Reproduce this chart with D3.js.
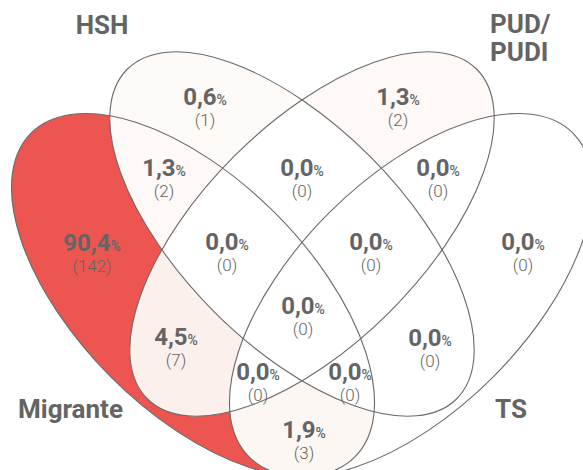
<!DOCTYPE html>
<html>
<head>
<meta charset="utf-8">
<title>Venn</title>
<script src="https://cdn.jsdelivr.net/npm/d3@7"></script>
<style>
  body { margin: 0; background: #fff; }
  text { font-family: Roboto, "DejaVu Sans", sans-serif; fill: #646464; }
</style>
</head>
<body>
<div id="chart"></div>
<script>
// data
var sets = ["Migrante", "HSH", "PUD/PUDI", "TS"];
// one digit per set, in the order of `sets` (1 = inside)
var regions  = ["1000", "0100", "0010", "0001", "1100", "0110", "0011", "1110", "0111", "1111", "1010", "0101", "1011", "1101", "1001"];
var percents = [90.4, 0.6, 1.3, 0.0, 1.3, 0.0, 0.0, 0.0, 0.0, 0.0, 4.5, 0.0, 0.0, 0.0, 1.9];
var counts   = [142, 1, 2, 0, 2, 0, 0, 0, 0, 0, 7, 0, 0, 0, 3];

function main() {
  var width = 583, height = 470;

  // layout of the four ellipses
  var shapes = [
    {cx: 193, cy: 295, rx: 229, ry: 116, rot: 45},
    {cx: 292, cy: 234, rx: 233, ry: 110, rot: 45},
    {cx: 312, cy: 234, rx: 233, ry: 110, rot: -45},
    {cx: 411, cy: 295, rx: 229, ry: 116, rot: -45}
  ];
  var labelAt = {
    "1000": [92, 251], "0100": [205, 105], "0010": [398, 105], "0001": [523, 250],
    "1100": [164, 176], "0110": [302, 176], "0011": [438, 176],
    "1110": [227, 250], "0111": [371, 250], "1111": [303, 314],
    "1010": [176, 345], "0101": [430, 346], "1011": [258, 380], "1101": [350, 380],
    "1001": [304, 438]
  };
  var setLabels = [
    {x: 18, y: 418, anchor: "start"},
    {x: 102, y: 34, anchor: "middle"},
    {x: 490, y: 33, anchor: "start"},
    {x: 495, y: 418, anchor: "start"}
  ];

  var color = d3.scaleLinear()
    .domain([0, 0.6, 4.5, d3.max(percents)])
    .range(["#ffffff", "#fefaf8", "#fcf0ec", "#ed5650"]);

  var fmt = d3.formatLocale({decimal: ",", thousands: ".", grouping: [3], currency: ["", ""]}).format(".1f");

  var svg = d3.select("#chart").append("svg")
    .attr("width", width)
    .attr("height", height);

  var defs = svg.append("defs");

  function ellipseAttrs(sel) {
    sel.attr("cx", 0).attr("cy", 0)
      .attr("rx", function(d) { return d.rx; })
      .attr("ry", function(d) { return d.ry; })
      .attr("transform", function(d) { return "translate(" + d.cx + "," + d.cy + ") rotate(" + d.rot + ")"; });
  }

  shapes.forEach(function(s, i) {
    defs.append("clipPath").attr("id", "clip" + i)
      .append("ellipse").datum(s).call(ellipseAttrs);
  });

  // one filled block per region: clipped to the sets it is in, masked by the others
  var fills = svg.append("g");
  regions.forEach(function(key, r) {
    var mask = defs.append("mask").attr("id", "mask" + key);
    mask.append("rect").attr("width", width).attr("height", height).attr("fill", "#fff");
    var g = fills;
    key.split("").forEach(function(bit, i) {
      if (bit === "1") {
        g = g.append("g").attr("clip-path", "url(#clip" + i + ")");
      } else {
        mask.append("ellipse").datum(shapes[i]).call(ellipseAttrs).attr("fill", "#000");
      }
    });
    g.append("rect")
      .attr("width", width).attr("height", height)
      .attr("mask", "url(#mask" + key + ")")
      .attr("fill", color(percents[r]));
  });

  svg.append("g").selectAll("ellipse")
    .data(shapes)
    .enter().append("ellipse")
    .call(ellipseAttrs)
    .attr("fill", "none")
    .attr("stroke", "#6a6a6a")
    .attr("stroke-width", 1.1);

  // region values
  var lab = svg.append("g").selectAll("g")
    .data(regions)
    .enter().append("g")
    .attr("transform", function(k) { return "translate(" + labelAt[k][0] + "," + labelAt[k][1] + ")"; });

  var val = lab.append("text").attr("text-anchor", "middle");
  val.append("tspan")
    .attr("font-size", 24).attr("font-weight", 700)
    .text(function(k, i) { return fmt(percents[i]); });
  val.append("tspan")
    .attr("font-size", 14).attr("font-weight", 500)
    .text("%");

  lab.append("text")
    .attr("text-anchor", "middle")
    .attr("y", 21)
    .attr("font-size", 17).attr("font-weight", 300)
    .attr("fill", "#707070")
    .text(function(k, i) { return "(" + counts[i] + ")"; });

  // set names
  svg.append("g").selectAll("text")
    .data(sets)
    .enter().append("text")
    .attr("x", function(d, i) { return setLabels[i].x; })
    .attr("y", function(d, i) { return setLabels[i].y; })
    .attr("text-anchor", function(d, i) { return setLabels[i].anchor; })
    .attr("font-size", 26).attr("font-weight", 700)
    .each(function(d, i) {
      var parts = d.split(/(?<=\/)/);
      d3.select(this).selectAll("tspan")
        .data(parts)
        .enter().append("tspan")
        .attr("x", setLabels[i].x)
        .attr("dy", function(p, j) { return j ? 28 : 0; })
        .text(function(p) { return p; });
    });
}

window.onload = main;
</script>
</body>
</html>
